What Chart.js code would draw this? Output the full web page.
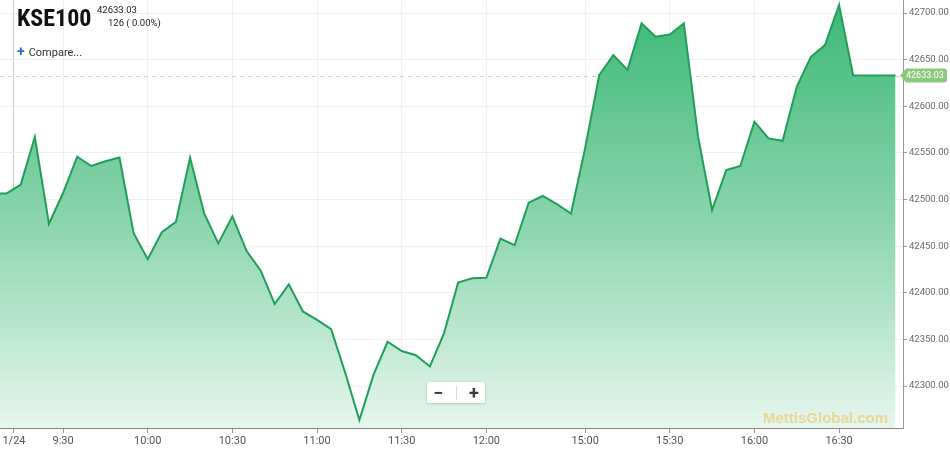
<!DOCTYPE html>
<html>
<head>
<meta charset="utf-8">
<script src="https://cdn.jsdelivr.net/npm/chart.js@4.4.1/dist/chart.umd.min.js"></script>
<style>
  body { margin: 0; background: #fff; font-family: Roboto, "Liberation Sans", sans-serif; }
  #wrap { position: relative; width: 950px; height: 450px; overflow: hidden; }
  #kseChart { position: absolute; left: 0; top: 0; }
  .symbol { position: absolute; left: 17px; top: 4px; font-family: "Liberation Sans Narrow", "Roboto Condensed", Roboto, sans-serif; font-weight: bold; font-size: 24px; color: #111; }
  .last { position: absolute; left: 97px; top: 4px; font-size: 9.5px; color: #222; }
  .change { position: absolute; left: 108px; top: 17px; font-size: 9.5px; color: #222; }
  .compare { position: absolute; left: 17px; top: 43px; font-size: 11px; color: #333; }
  .compare b { color: #2a6ebf; font-size: 14px; margin-right: 4px; }
  .zoomBtns { position: absolute; left: 427px; top: 382px; width: 58px; height: 21px; background: #fff; border-radius: 2px; box-shadow: 0 1px 3px rgba(0,0,0,0.18); display: flex; align-items: center; justify-content: space-around; font-weight: bold; font-size: 18px; color: #3a3a3a; }
  .zoomBtns i { display: block; width: 1px; height: 14px; background: #ddd; }
  .watermark { position: absolute; left: 763px; top: 409px; font-family: Arial, "Liberation Sans", sans-serif; font-weight: bold; font-size: 15px; color: rgba(238, 190, 80, 0.55); }
</style>
</head>
<body>
<div id="wrap">
  <canvas id="kseChart" width="950" height="450"></canvas>
  <div class="symbol">KSE100</div>
  <div class="last">42633.03</div>
  <div class="change">126 ( 0.00%)</div>
  <div class="compare"><b>+</b>Compare...</div>
  <div class="zoomBtns"><span>&minus;</span><i></i><span>+</span></div>
  <div class="watermark">MettisGlobal.com</div>
</div>
<script>
// 5-minute bars, ordinal index (first one sits just off the left edge)
const prices = [
  42506.6, 42506.6, 42516, 42567, 42474, 42507, 42546, 42536, 42541, 42545,
  42464, 42436, 42465, 42476, 42545, 42485, 42453, 42482, 42445, 42424,
  42388, 42409, 42380, 42371, 42361, 42314, 42263.5, 42312, 42347.5, 42337.5,
  42333, 42321, 42356.5, 42411, 42415.5, 42416, 42458, 42451, 42496.6, 42503.8,
  42495, 42485, 42555, 42633.5, 42655, 42639, 42689, 42674.6, 42677, 42689,
  42568, 42488.7, 42531.6, 42536, 42583.5, 42565.6, 42563, 42621, 42653, 42665.7,
  42708.6, 42633.03, 42633.03, 42633.03, 42633.03
];
const firstIndex = -1;

// x axis labels and the bar index they sit on
const timeLabels = ["1/24", "9:30", "10:00", "10:30", "11:00", "11:30", "12:00", "15:00", "15:30", "16:00", "16:30"];
const timeTicks = [0.52, 4, 10, 16, 22, 28, 34, 41, 47, 53, 59];

// y axis ticks
const priceTicks = [42300, 42350, 42400, 42450, 42500, 42550, 42600, 42650, 42700];
const lastPrice = 42633.03;

// dashed current-price line (under the mountain) + tag on the axis
const currentPrice = {
  id: "currentPrice",
  beforeDatasetsDraw(chart) {
    const { ctx, chartArea } = chart;
    const y = Math.round(chart.scales.y.getPixelForValue(lastPrice)) + 0.5;
    ctx.save();
    ctx.strokeStyle = "#cfcfcf";
    ctx.lineWidth = 1;
    ctx.setLineDash([4, 4]);
    ctx.beginPath();
    ctx.moveTo(chartArea.left, y);
    ctx.lineTo(chartArea.right, y);
    ctx.stroke();
    ctx.restore();
  },
  afterDraw(chart) {
    const { ctx, chartArea } = chart;
    const y = chart.scales.y.getPixelForValue(lastPrice);
    const x = chartArea.right - 3;
    ctx.save();
    ctx.fillStyle = "#8cc97c";
    ctx.beginPath();
    ctx.moveTo(x, y);
    ctx.lineTo(x + 6, y - 7);
    ctx.lineTo(x + 44, y - 7);
    ctx.quadraticCurveTo(x + 47, y - 7, x + 47, y - 4);
    ctx.lineTo(x + 47, y + 4);
    ctx.quadraticCurveTo(x + 47, y + 7, x + 44, y + 7);
    ctx.lineTo(x + 6, y + 7);
    ctx.closePath();
    ctx.fill();
    ctx.fillStyle = "#fff";
    ctx.font = "9px Roboto";
    ctx.textBaseline = "middle";
    ctx.fillText(lastPrice.toFixed(2), x + 6, y + 0.5);
    ctx.restore();
  }
};

const ctx = document.getElementById("kseChart").getContext("2d");
new Chart(ctx, {
  type: "line",
  data: {
    datasets: [
      {
        label: "KSE100",
        data: prices.map((p, i) => ({ x: firstIndex + i, y: p })),
        borderColor: "#1f9e5c",
        borderWidth: 2,
        pointRadius: 0,
        tension: 0,
        fill: "start",
        backgroundColor: (context) => {
          const area = context.chart.chartArea;
          if (!area) return "rgba(70,190,125,0.8)";
          const g = context.chart.ctx.createLinearGradient(0, area.top, 0, area.bottom);
          g.addColorStop(0, "rgb(60,184,116)");
          g.addColorStop(0.5, "rgb(136,212,171)");
          g.addColorStop(1, "rgb(230,246,238)");
          return g;
        }
      }
    ]
  },
  options: {
    responsive: false,
    animation: false,
    events: [],
    layout: { padding: 0 },
    plugins: { legend: { display: false }, tooltip: { enabled: false } },
    scales: {
      x: {
        type: "linear",
        min: -0.47,
        max: 63.53,
        afterBuildTicks: (scale) => {
          scale.ticks = timeTicks.map((v) => ({ value: v }));
        },
        afterFit: (scale) => {
          scale.height = 22;
          scale.paddingLeft = 0;
          scale.paddingRight = 0;
        },
        ticks: {
          autoSkip: false,
          maxRotation: 0,
          padding: 2,
          color: "#555",
          font: { family: "Roboto", size: 11 },
          callback: (v, i) => timeLabels[i]
        },
        grid: {
          color: (c) => (c.index === 0 ? "#cccccc" : "#f0f0f0"),
          tickColor: "#999",
          tickLength: 5
        },
        border: { color: "#888" }
      },
      y: {
        position: "right",
        min: 42255,
        max: 42714,
        afterBuildTicks: (scale) => {
          scale.ticks = priceTicks.map((v) => ({ value: v }));
        },
        afterFit: (scale) => {
          scale.width = 47;
          scale.paddingTop = 0;
          scale.paddingBottom = 0;
        },
        ticks: {
          padding: 2,
          color: "#6a6a6a",
          font: { family: "Roboto", size: 9.5 },
          callback: (v) => Number(v).toFixed(2)
        },
        grid: {
          color: "#efefef",
          tickColor: "#999",
          tickLength: 4
        },
        border: { color: "#999" }
      }
    }
  },
  plugins: [currentPrice]
});
</script>
</body>
</html>
